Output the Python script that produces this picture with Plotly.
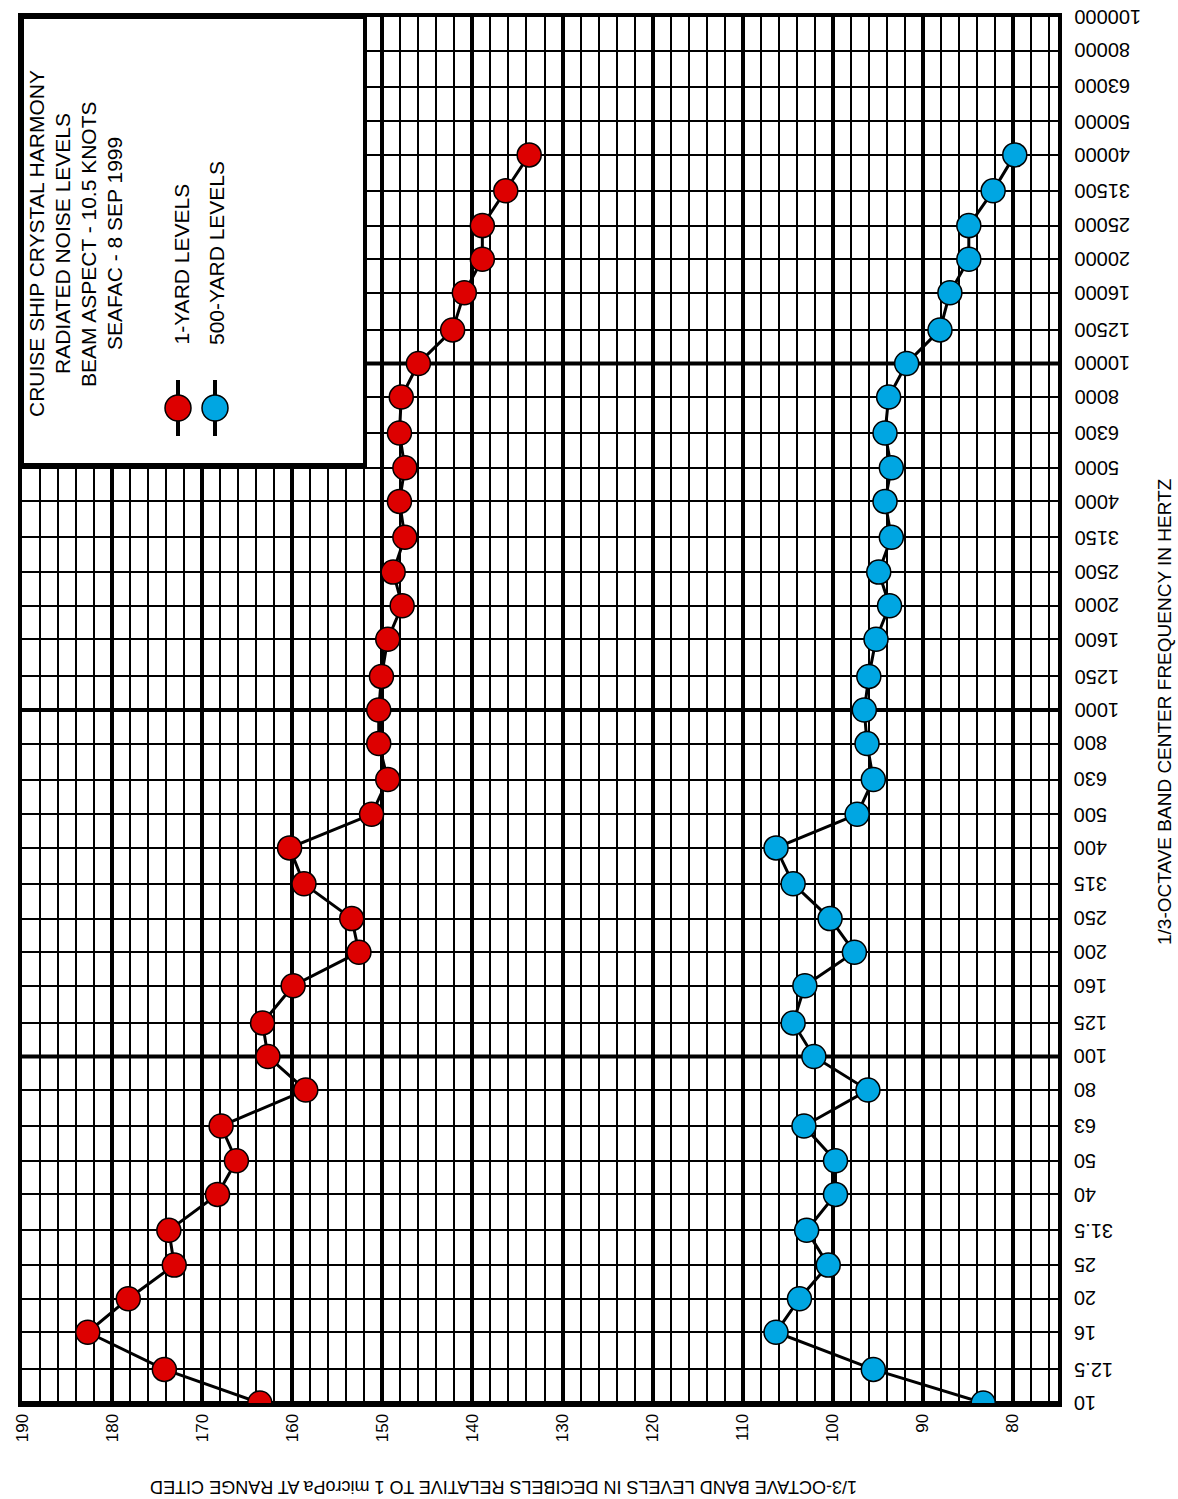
import math
import plotly.graph_objects as go

# 1/3-octave band centre frequencies (Hz) and their axis labels
band_hz = [10, 12.5, 16, 20, 25, 31.5, 40, 50, 63, 80, 100, 125, 160, 200, 250,
           315, 400, 500, 630, 800, 1000, 1250, 1600, 2000, 2500, 3150, 4000,
           5000, 6300, 8000, 10000, 12500, 16000, 20000, 25000, 31500, 40000]
tick_hz = band_hz + [50000, 63000, 80000, 100000]
tick_text = ["10", "12.5", "16", "20", "25", "31.5", "40", "50", "63", "80",
             "100", "125", "160", "200", "250", "315", "400", "500", "630", "800",
             "1000", "1250", "1600", "2000", "2500", "3150", "4000", "5000", "6300",
             "8000", "10000", "12500", "16000", "20000", "25000", "31500", "40000",
             "50000", "63000", "80000", "100000"]

# Band levels in dB re 1 microPa
level_1yd = [163.6, 174.2, 182.7, 178.2, 173.1, 173.7, 168.3, 166.2, 167.9, 158.5,
             162.7, 163.3, 159.9, 152.6, 153.4, 158.7, 160.3, 151.2, 149.4, 150.4,
             150.4, 150.1, 149.4, 147.8, 148.8, 147.5, 148.1, 147.5, 148.1, 147.9,
             146.0, 142.2, 140.9, 138.9, 138.9, 136.3, 133.7]
level_500yd = [83.3, 95.5, 106.3, 103.7, 100.5, 102.9, 99.7, 99.7, 103.2, 96.1,
               102.1, 104.4, 103.1, 97.6, 100.3, 104.4, 106.3, 97.3, 95.5, 96.2,
               96.5, 96.0, 95.2, 93.7, 94.9, 93.5, 94.2, 93.5, 94.2, 93.8,
               91.8, 88.1, 87.0, 84.9, 84.9, 82.2, 79.8]

legend_lines = ["CRUISE SHIP CRYSTAL HARMONY", "RADIATED NOISE LEVELS",
                "BEAM ASPECT - 10.5 KNOTS", "SEAFAC - 8 SEP 1999"]
series_names = ["1-YARD LEVELS", "500-YARD LEVELS"]

RED = "#DD0000"
BLUE = "#00A6E2"
FONT = "Liberation Sans"

W, H = 1178, 1499
ML, MR, MT, MB = 22, 120, 17, 96
PW, PH = W - ML - MR, H - MT - MB


def px_x(x):
    return (x - ML) / PW


def px_y(y):
    return (H - MB - y) / PH


fig = go.Figure()
for lev, col, name in [(level_1yd, RED, series_names[0]),
                       (level_500yd, BLUE, series_names[1])]:
    fig.add_trace(go.Scatter(
        x=lev, y=band_hz, mode="lines+markers", name=name,
        line=dict(color="black", width=3),
        marker=dict(size=24, color=col, line=dict(color="black", width=1.5)),
        cliponaxis=True, showlegend=False))

shapes = []
# heavy decade lines
for f in [10, 100, 1000, 10000]:
    shapes.append(dict(type="line", xref="paper", yref="y", x0=0, x1=1, y0=f, y1=f,
                       line=dict(color="black", width=4), layer="below"))
# key box
shapes.append(dict(type="rect", xref="paper", yref="paper",
                   x0=px_x(22), x1=px_x(365), y0=px_y(465), y1=px_y(17),
                   fillcolor="white", line=dict(color="black", width=4), layer="above"))
# key symbols
for xc, col in [(178, RED), (215, BLUE)]:
    shapes.append(dict(type="line", xref="paper", yref="paper",
                       x0=px_x(xc), x1=px_x(xc), y0=px_y(380), y1=px_y(436),
                       line=dict(color="black", width=4), layer="above"))
    shapes.append(dict(type="circle", xref="paper", yref="paper",
                       x0=px_x(xc - 13), x1=px_x(xc + 13), y0=px_y(421), y1=px_y(395),
                       fillcolor=col, line=dict(color="black", width=1.5), layer="above"))

annotations = []
for xc, txt in zip([36, 62, 88, 114], legend_lines):
    annotations.append(dict(x=px_x(xc), y=px_y(244), xref="paper", yref="paper",
                            text=txt, showarrow=False, textangle=-90,
                            font=dict(family=FONT, size=21, color="black"),
                            xanchor="center", yanchor="middle"))
for xc, txt in zip([181, 216], series_names):
    annotations.append(dict(x=px_x(xc), y=px_y(347), xref="paper", yref="paper",
                            text=txt, showarrow=False, textangle=-90,
                            font=dict(family=FONT, size=21, color="black"),
                            xanchor="center", yanchor="bottom"))
# frequency labels, printed upside down beside the right edge
for f, txt in zip(tick_hz, tick_text):
    annotations.append(dict(x=px_x(1072), y=math.log10(f), xref="paper", yref="y",
                            text=txt, showarrow=False, textangle=180,
                            font=dict(family=FONT, size=20, color="black"),
                            xanchor="left", yanchor="middle"))
annotations.append(dict(
    x=px_x(504), y=px_y(1487), xref="paper", yref="paper",
    text="1/3-OCTAVE BAND LEVELS IN DECIBELS RELATIVE TO 1 microPa AT RANGE CITED",
    showarrow=False, textangle=180, font=dict(family=FONT, size=18, color="black"),
    xanchor="center", yanchor="middle"))
annotations.append(dict(
    x=px_x(1164), y=px_y(712), xref="paper", yref="paper",
    text="1/3-OCTAVE BAND CENTER FREQUENCY IN HERTZ",
    showarrow=False, textangle=-90, font=dict(family=FONT, size=19, color="black"),
    xanchor="center", yanchor="middle"))

fig.update_layout(
    width=W, height=H,
    margin=dict(l=ML, r=MR, t=MT, b=MB, pad=0),
    paper_bgcolor="white", plot_bgcolor="white",
    shapes=shapes, annotations=annotations,
    xaxis=dict(range=[190, 75], dtick=10, tick0=80, showgrid=True,
               gridcolor="black", gridwidth=4,
               minor=dict(dtick=2, tick0=80, showgrid=True, gridcolor="black", gridwidth=2),
               showline=True, linecolor="black", linewidth=4, mirror=True,
               ticks="", tickangle=-90, zeroline=False,
               tickfont=dict(family=FONT, size=17, color="black")),
    yaxis=dict(type="log", range=[1, 5], side="right",
               tickmode="array", tickvals=tick_hz, ticktext=tick_text,
               showticklabels=False,
               showgrid=True, gridcolor="black", gridwidth=2,
               showline=True, linecolor="black", linewidth=4, mirror=True,
               ticks=""),
)

fig.write_html("out.html")
